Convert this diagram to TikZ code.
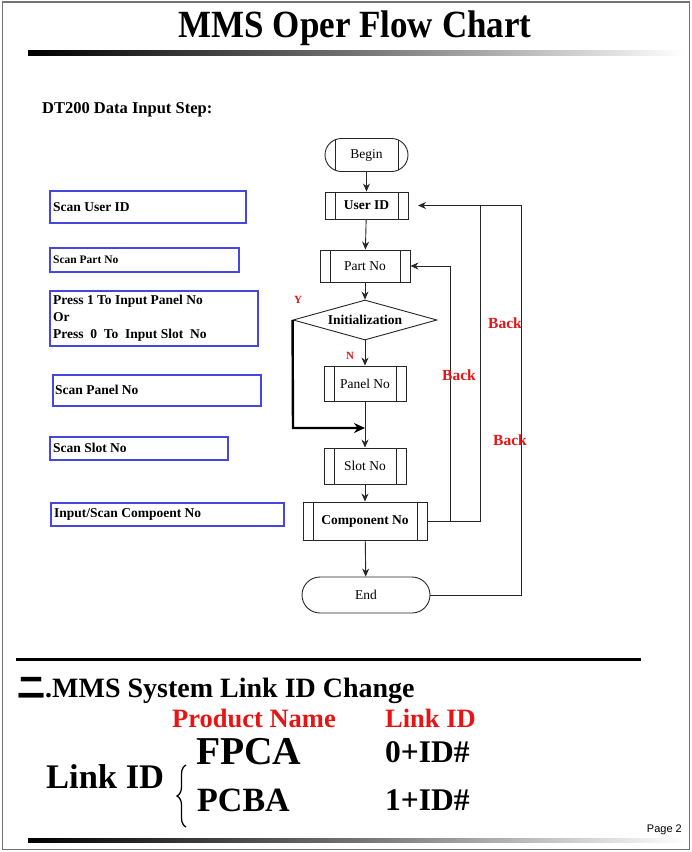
\documentclass[tikz,border=0pt]{standalone}
\usepackage{fontspec}
\setmainfont{Liberation Serif}
\newfontfamily\cjkfont{Noto Sans CJK SC}
\newfontfamily\sansfont{Liberation Sans}
\usetikzlibrary{shapes.geometric,shapes.misc,arrows.meta,decorations.pathreplacing}
\definecolor{boxblue}{RGB}{70,70,225}
\definecolor{bred}{RGB}{230,20,20}
\tikzset{
  fl/.style={line width=0.9pt, draw=black!85},
  arr/.style={fl, -{Stealth[length=8pt,width=7pt]}},
  thickarr/.style={line width=2.4pt, draw=black, -{Stealth[length=11pt,width=10pt]}},
  vlines/.style={path picture={
      \draw[fl] ([xshift=10pt]path picture bounding box.north west) -- ([xshift=10pt]path picture bounding box.south west);
      \draw[fl] ([xshift=-10pt]path picture bounding box.north east) -- ([xshift=-10pt]path picture bounding box.south east);}},
  proc/.style={rectangle, fl, draw, vlines, inner sep=0pt, font=\fontsize{13.5}{15}\selectfont},
  term/.style={rounded rectangle, fl, draw, inner sep=0pt, font=\fontsize{13.5}{15}\selectfont},
  bluebox/.style={rectangle, draw=boxblue, line width=1.3pt, inner sep=0pt},
  boxtxt/.style={anchor=west, inner sep=0pt, font=\bfseries\fontsize{13.5}{15}\selectfont},
  backlbl/.style={text=bred, font=\bfseries\fontsize{15.5}{17}\selectfont, inner sep=0pt},
  gbar/.style={left color=black, right color=white, middle color=black!55, draw=none}
}
\begin{document}
\begin{tikzpicture}[x=1pt,y=-1pt]
\useasboundingbox (0,0) rectangle (692,852);
% frame
\draw[black!55, line width=1.6pt] (2.5,2) rectangle (689.5,849.5);
% title
\node[inner sep=0pt, font=\bfseries\fontsize{35}{38}\selectfont] (title) at (355,28) {\scalebox{1}[1.1]{MMS Oper Flow Chart}};
\shade[gbar] (28,50) rectangle (685,55);
\node[anchor=west, inner sep=0pt, font=\bfseries\fontsize{16.5}{18}\selectfont] (dt) at (42,110) {DT200 Data Input Step:};

% flowchart
\node[term, minimum width=83pt, minimum height=33pt, vlines] (begin) at (366.5,155) {Begin};
\node[proc, minimum width=83pt, minimum height=27pt, font=\bfseries\fontsize{13.5}{15}\selectfont] (user) at (366.5,205.5) {User ID};
\node[proc, minimum width=90pt, minimum height=32pt] (part) at (365,266) {Part No};
\node[diamond, fl, draw, aspect=3.6, inner sep=0pt, minimum width=144pt, minimum height=40pt, font=\bfseries\fontsize{13.5}{15}\selectfont] (init) at (365,320) {Initialization};
\node[proc, minimum width=82pt, minimum height=35pt] (panel) at (365,383.5) {Panel No};
\node[proc, minimum width=82pt, minimum height=36pt] (slot) at (365,466) {Slot No};
\node[proc, minimum width=124pt, minimum height=38pt, font=\bfseries\fontsize{13.5}{15}\selectfont] (comp) at (365,521) {Component No};
\node[term, minimum width=128pt, minimum height=36pt] (end) at (366,595) {End};

\node[backlbl, font=\bfseries\fontsize{11}{12}\selectfont] (ylbl) at (298,300) {Y};
\node[backlbl, font=\bfseries\fontsize{11}{12}\selectfont] (nlbl) at (350,356) {N};

\coordinate (join) at (365,428);
\coordinate (uin) at (418,205.5);

\draw[arr] (begin) -- (user);
\draw[arr] (user) -- (part);
\draw[arr] (part) -- (init);
\draw[arr] (init) -- (panel);
\draw[arr] (panel) -- (slot);
\draw[thickarr] (init.west) -- (293,428) -- (join);
\draw[arr] (slot) -- (comp);
\draw[arr] (comp) -- (end);
\draw[arr] (comp.east) -- (450,521) |- (part.east);
\draw[arr] (comp.east) -- (480,521) |- (uin);
\draw[fl] (end.east) -| (521,205.5) -- (480,205.5);

\node[backlbl] (b1) at (505,323) {Back};
\node[backlbl] (b2) at (459,375) {Back};
\node[backlbl] (b3) at (510,440) {Back};

% left boxes
\node[bluebox, minimum width=196pt, minimum height=32pt] (s1) at (148,207) {};
\node[boxtxt] at (53,207) {Scan User ID};
\node[bluebox, minimum width=189pt, minimum height=24pt] (s2) at (144.5,260) {};
\node[boxtxt, font=\bfseries\fontsize{11.5}{13}\selectfont] at (53,260) {Scan Part No};
\node[bluebox, minimum width=208pt, minimum height=55pt] (s3) at (154,318.5) {};
\node[boxtxt, align=left, font=\bfseries\fontsize{13.5}{17}\selectfont] at (53,318) {Press 1 To Input Panel No\\Or\\Press\ \ 0\ \ To\ \ Input Slot\ \ No};
\node[bluebox, minimum width=208pt, minimum height=31pt] (s4) at (157,390.5) {};
\node[boxtxt] at (55,390) {Scan Panel No};
\node[bluebox, minimum width=178pt, minimum height=23pt] (s5) at (139,448.5) {};
\node[boxtxt] at (53,448) {Scan Slot No};
\node[bluebox, minimum width=233pt, minimum height=23pt] (s6) at (167.5,514.5) {};
\node[boxtxt] at (54,514) {Input/Scan Compoent No};

% bottom section
\draw[line width=3pt] (16,659) -- (641,659);
\node[anchor=west, inner sep=0pt, font=\bfseries\fontsize{28}{30}\selectfont] (sec) at (17,691) {{\cjkfont 二}.MMS System Link ID Change};
\node[anchor=west, inner sep=0pt, text=bred, font=\bfseries\fontsize{26.5}{28}\selectfont] (pn) at (172,718) {Product Name};
\node[anchor=west, inner sep=0pt, text=bred, font=\bfseries\fontsize{26.5}{28}\selectfont] (li) at (385,718) {Link ID};
\node[anchor=west, inner sep=0pt, font=\bfseries\fontsize{34.5}{36}\selectfont] (lk) at (46,777) {Link ID};
\draw[line width=1.3pt, decorate, decoration={brace, amplitude=9pt}] (186,827) -- (186,765);
\node[anchor=west, inner sep=0pt, font=\bfseries\fontsize{39.5}{41}\selectfont] (fpca) at (196,752) {FPCA};
\node[anchor=west, inner sep=0pt, font=\bfseries\fontsize{31.5}{33}\selectfont] (id0) at (385,752) {0+ID\#};
\node[anchor=west, inner sep=0pt, font=\bfseries\fontsize{34}{36}\selectfont] (pcba) at (197,800) {PCBA};
\node[anchor=west, inner sep=0pt, font=\bfseries\fontsize{31.5}{33}\selectfont] (id1) at (385,800) {1+ID\#};
\node[anchor=east, inner sep=0pt, font=\sansfont\fontsize{11}{12}\selectfont] (pg) at (682,830) {Page 2};
\shade[gbar] (28,838) rectangle (685,842);
\end{tikzpicture}
\end{document}
